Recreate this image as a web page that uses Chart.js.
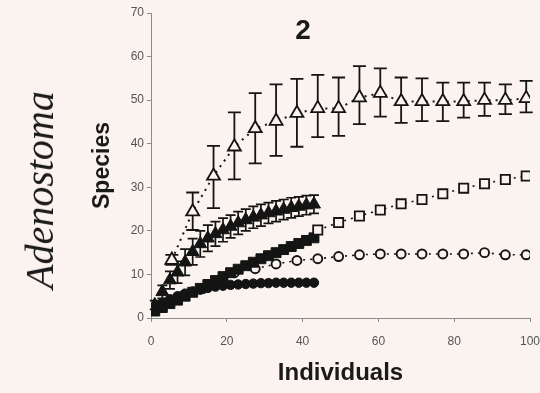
<!DOCTYPE html>
<html><head><meta charset="utf-8">
<script src="https://cdn.jsdelivr.net/npm/chart.js@4.4.1/dist/chart.umd.min.js"></script>
<style>
html,body{margin:0;padding:0;background:#fbf3ef;}
#wrap{position:relative;width:540px;height:393px;overflow:hidden;background:#fbf3ef;}
canvas{position:absolute;left:0;top:0;}
#num{position:absolute;left:289px;top:13px;width:28px;text-align:center;font:bold 28px "Liberation Sans",Arial,sans-serif;color:#1a1a1a;line-height:34px;}
#genus{position:absolute;left:40px;top:190px;transform:translate(-50%,-50%) rotate(-90deg);font:italic 40px "Liberation Serif","Times New Roman",serif;color:#1a1a1a;white-space:nowrap;line-height:40px;}
</style></head><body>
<div id="wrap"><canvas id="c" width="540" height="393"></canvas>
<div id="num">2</div><div id="genus">Adenostoma</div></div>
<script>
// ---- data ----
const xTicks = [0, 20, 40, 60, 80, 100];
const yTicks = [0, 10, 20, 30, 40, 50, 60, 70];

// open triangles (with wide error bars)
const openTriX   = [5.5, 11, 16.5, 22, 27.5, 33, 38.5, 44, 49.5, 55, 60.5, 66, 71.5, 77, 82.5, 88, 93.5, 99];
const openTriY   = [13.3, 24.4, 32.6, 39.3, 43.5, 45.2, 47.0, 48.1, 48.1, 50.6, 51.6, 49.7, 49.7, 49.7, 49.7, 50.0, 50.0, 50.4];
const openTriLow = [12.2, 20.2, 25.2, 31.8, 35.5, 37.2, 39.3, 41.5, 41.8, 44.5, 46.2, 44.8, 45.2, 45.2, 46.0, 46.4, 46.8, 47.2];
const openTriHigh= [14.5, 28.8, 39.5, 47.2, 51.6, 53.6, 54.9, 55.8, 55.2, 57.8, 57.3, 55.2, 55.0, 54.0, 54.0, 54.0, 53.6, 54.4];

// open squares
const openSqX = [44, 49.5, 55, 60.5, 66, 71.5, 77, 82.5, 88, 93.5, 99];
const openSqY = [20.2, 21.9, 23.4, 24.8, 26.2, 27.2, 28.5, 29.8, 30.8, 31.8, 32.6];

// open circles
const openCircX = [22, 27.5, 33, 38.5, 44, 49.5, 55, 60.5, 66, 71.5, 77, 82.5, 88, 93.5, 99];
const openCircY = [10.4, 11.3, 12.4, 13.2, 13.6, 14.1, 14.5, 14.7, 14.7, 14.7, 14.7, 14.7, 15.0, 14.5, 14.5];

// filled series (dense, individuals 1..43)
const filledX    = [1, 3, 5, 7, 9, 11, 13, 15, 17, 19, 21, 23, 25, 27, 29, 31, 33, 35, 37, 39, 41, 43];
const filledTriY = [3.0, 6.0, 8.7, 10.5, 12.8, 15.2, 17.0, 18.3, 19.3, 20.2, 21.0, 21.8, 22.5, 23.1, 23.6, 24.1, 24.5, 24.9, 25.3, 25.6, 25.9, 26.1];
const filledTriErr = [1.0, 1.5, 2.0, 2.5, 3.0, 3.0, 3.0, 3.0, 2.8, 2.7, 2.6, 2.6, 2.5, 2.5, 2.5, 2.4, 2.4, 2.3, 2.3, 2.2, 2.2, 2.1];
const filledSqY  = [1.6, 2.4, 3.3, 4.1, 5.0, 5.9, 6.8, 7.7, 8.6, 9.5, 10.4, 11.2, 12.0, 12.8, 13.6, 14.3, 15.0, 15.7, 16.4, 17.1, 17.8, 18.4];
const filledCircY= [2.5, 3.5, 4.3, 5.0, 5.6, 6.1, 6.5, 6.9, 7.2, 7.4, 7.6, 7.7, 7.8, 7.9, 8.0, 8.0, 8.1, 8.1, 8.1, 8.1, 8.1, 8.1];

// ---- chart ----
const BG = '#fbf3ef';
const INK = '#141414';
const pts = (xs, ys) => xs.map((x, i) => ({x: x, y: ys[i]}));

const errorBars = {
  id: 'errorBars',
  beforeDatasetDraw(chart, args) {
    const ds = chart.data.datasets[args.index];
    if (!ds.errLow) return;
    const sx = chart.scales.x, sy = chart.scales.y, ctx = chart.ctx;
    ctx.save();
    ctx.strokeStyle = INK;
    ctx.lineWidth = ds.errLineWidth;
    ds.data.forEach((p, i) => {
      const px = sx.getPixelForValue(p.x);
      const lo = sy.getPixelForValue(ds.errLow[i]);
      const hi = sy.getPixelForValue(ds.errHigh[i]);
      const c = ds.capHalf;
      ctx.beginPath();
      ctx.moveTo(px, lo); ctx.lineTo(px, hi);
      ctx.moveTo(px - c, lo); ctx.lineTo(px + c, lo);
      ctx.moveTo(px - c, hi); ctx.lineTo(px + c, hi);
      ctx.stroke();
    });
    ctx.restore();
  }
};

const font = '"Liberation Sans", Arial, sans-serif';

new Chart(document.getElementById('c'), {
  type: 'scatter',
  data: {
    datasets: [
      {
        label: 'open triangles', data: pts(openTriX, openTriY), order: 1,
        errLow: openTriLow, errHigh: openTriHigh, capHalf: 6.5, errLineWidth: 1.8,
        showLine: true, borderColor: INK, borderWidth: 2, borderDash: [2, 5],
        pointStyle: 'triangle', pointRadius: 7.5, pointBorderWidth: 1.8,
        pointBackgroundColor: BG, pointBorderColor: INK
      },
      {
        label: 'open squares', data: pts(openSqX, openSqY), order: 2,
        showLine: true, borderColor: INK, borderWidth: 1.6, borderDash: [2, 5],
        pointStyle: 'rect', pointRadius: 6.5, pointBorderWidth: 1.8,
        pointBackgroundColor: BG, pointBorderColor: INK
      },
      {
        label: 'filled triangles', data: pts(filledX, filledTriY), order: 3,
        errLow: filledTriY.map((v, i) => v - filledTriErr[i]),
        errHigh: filledTriY.map((v, i) => v + filledTriErr[i]),
        capHalf: 5, errLineWidth: 1.7,
        showLine: false,
        pointStyle: 'triangle', pointRadius: 7.5, pointBorderWidth: 1,
        pointBackgroundColor: INK, pointBorderColor: INK
      },
      {
        label: 'filled squares', data: pts(filledX, filledSqY), order: 4,
        showLine: false,
        pointStyle: 'rect', pointRadius: 7, pointBorderWidth: 1,
        pointBackgroundColor: INK, pointBorderColor: INK
      },
      {
        label: 'open circles', data: pts(openCircX, openCircY), order: 5,
        showLine: true, borderColor: INK, borderWidth: 1.6, borderDash: [2, 5],
        pointStyle: 'circle', pointRadius: 4.5, pointBorderWidth: 1.9,
        pointBackgroundColor: BG, pointBorderColor: INK
      },
      {
        label: 'filled circles', data: pts(filledX, filledCircY), order: 6,
        showLine: false,
        pointStyle: 'circle', pointRadius: 4.7, pointBorderWidth: 1,
        pointBackgroundColor: INK, pointBorderColor: INK
      }
    ]
  },
  options: {
    responsive: false,
    devicePixelRatio: 1,
    animation: false,
    events: [],
    layout: { padding: { left: 70, top: 13, right: 0, bottom: 0 } },
    plugins: { legend: { display: false }, tooltip: { enabled: false }, title: { display: false } },
    scales: {
      x: {
        type: 'linear', min: 0, max: 100,
        afterBuildTicks(s) { s.ticks = xTicks.map(v => ({value: v})); },
        ticks: { color: '#555', font: { family: font, size: 12 }, padding: 12, maxRotation: 0 },
        grid: { drawOnChartArea: false, drawTicks: true, tickLength: 4, color: '#8a8a8a', lineWidth: 1 },
        border: { display: true, color: '#8a8a8a', width: 1 },
        title: { display: true, text: 'Individuals', color: '#1a1a1a',
                 font: { family: font, size: 24, weight: 'bold' }, padding: { top: 0, bottom: 5 } },
        afterFit(s) { s.height = 75; s.paddingRight = 10; s.paddingLeft = 4; }
      },
      y: {
        type: 'linear', min: 0, max: 70,
        afterBuildTicks(s) { s.ticks = yTicks.map(v => ({value: v})); },
        ticks: { color: '#555', font: { family: font, size: 12 }, padding: 3 },
        grid: { drawOnChartArea: false, drawTicks: true, tickLength: 4, color: '#8a8a8a', lineWidth: 1 },
        border: { display: true, color: '#8a8a8a', width: 1 },
        title: { display: true, text: 'Species', color: '#1a1a1a',
                 font: { family: font, size: 23, weight: 'bold' }, padding: { top: 19, bottom: 0 } },
        afterFit(s) { s.width = 81; }
      }
    }
  },
  plugins: [errorBars]
});
</script>
</body></html>
